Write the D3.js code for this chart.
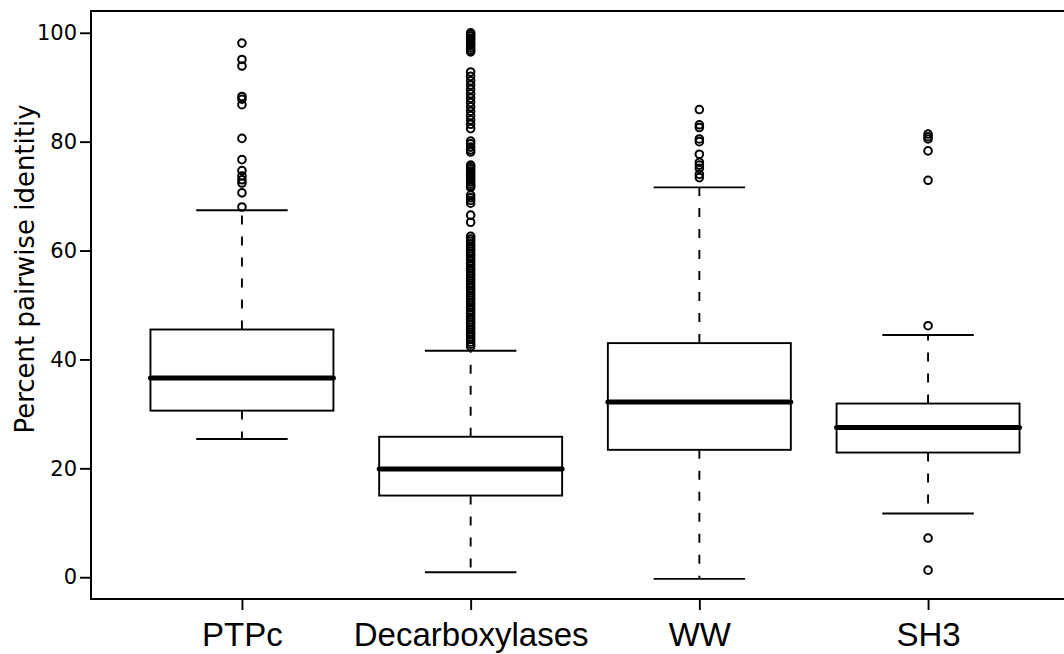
<!DOCTYPE html>
<html>
<head>
<meta charset="utf-8">
<script src="https://cdn.jsdelivr.net/npm/d3@7"></script>
<style>
  body { margin: 0; background: #fff; }
  svg { display: block; }
</style>
</head>
<body>
<svg id="chart"></svg>
<script>
// box statistics
const groups = ["PTPc", "Decarboxylases", "WW", "SH3"];
const lowerWhisker = [25.4, 0.9, -0.3, 11.7];
const lowerQuartile = [30.6, 15.0, 23.4, 22.9];
const medians = [36.6, 19.9, 32.2, 27.5];
const upperQuartile = [45.5, 25.8, 43.0, 31.9];
const upperWhisker = [67.4, 41.6, 71.6, 44.5];
const yTicks = [0, 20, 40, 60, 80, 100];

// outliers for each group
const outliersPTPc = [98.1, 95.1, 93.9, 88.3, 87.8, 86.8, 80.6, 76.7, 74.7, 73.7, 73.0, 72.4, 70.6, 68.0];
const outliersDecarb = [
  100.0, 99.7, 99.4, 99.0, 98.7, 98.3, 98.0, 97.6, 97.2, 96.8, 96.5,
  92.8, 92.0, 91.2, 90.4, 89.6, 88.8, 88.0, 87.2, 86.4, 85.6, 84.8, 84.0, 83.2, 82.4,
  80.1, 79.6, 79.0, 78.5, 78.1,
  75.7, 75.4, 75.0, 74.6, 74.2, 73.8, 73.4, 73.0, 72.6, 72.2, 71.8, 71.6,
  70.2, 69.7, 69.2, 68.7,
  66.5, 65.2,
  62.6, 62.1, 61.7, 61.2, 60.8, 60.3, 59.9, 59.4, 59.0, 58.5, 58.1, 57.6, 57.2,
  56.7, 56.3, 55.8, 55.4, 54.9, 54.5, 54.0, 53.6, 53.1, 52.7, 52.2, 51.8, 51.3,
  50.9, 50.4, 50.0, 49.5, 49.1, 48.6, 48.2, 47.7, 47.3, 46.8, 46.4, 45.9, 45.5,
  45.0, 44.6, 44.1, 43.7, 43.2, 42.8, 42.4
];
const outliersWW = [85.9, 83.1, 82.6, 80.5, 80.0, 77.7, 76.2, 75.7, 75.1, 74.0, 73.4];
const outliersSH3 = [81.4, 80.9, 80.5, 78.3, 72.9, 46.2, 7.2, 1.3];
const outliers = [outliersPTPc, outliersDecarb, outliersWW, outliersSH3];

const W = 1064, H = 654;
const frame = { left: 91, top: 11, right: 1079, bottom: 599 };

const svg = d3.select("#chart").attr("width", W).attr("height", H);

const x = d3.scaleLinear().domain([0.34, 4.66]).range([frame.left, frame.right]);
const y = d3.scaleLinear().domain([-4, 104]).range([frame.bottom, frame.top]);

const boxW = x(0.8) - x(0);
const stapleW = x(0.4) - x(0);
const lw = 1.9;

const data = groups.map((g, i) => ({
  name: g, pos: i + 1,
  lo: lowerWhisker[i], q1: lowerQuartile[i], med: medians[i],
  q3: upperQuartile[i], hi: upperWhisker[i], out: outliers[i]
}));

const boxes = svg.append("g").selectAll("g").data(data).join("g");

// dashed whiskers
boxes.append("line")
  .attr("x1", d => x(d.pos)).attr("x2", d => x(d.pos))
  .attr("y1", d => y(d.q3)).attr("y2", d => y(d.hi))
  .attr("stroke", "#000").attr("stroke-width", lw).attr("stroke-dasharray", "9,12");
boxes.append("line")
  .attr("x1", d => x(d.pos)).attr("x2", d => x(d.pos))
  .attr("y1", d => y(d.q1)).attr("y2", d => y(d.lo))
  .attr("stroke", "#000").attr("stroke-width", lw).attr("stroke-dasharray", "9,12");

// staples
["lo", "hi"].forEach(k => {
  boxes.append("line")
    .attr("x1", d => x(d.pos) - stapleW / 2).attr("x2", d => x(d.pos) + stapleW / 2)
    .attr("y1", d => y(d[k])).attr("y2", d => y(d[k]))
    .attr("stroke", "#000").attr("stroke-width", lw);
});

// boxes
boxes.append("rect")
  .attr("x", d => x(d.pos) - boxW / 2)
  .attr("y", d => y(d.q3))
  .attr("width", boxW)
  .attr("height", d => y(d.q1) - y(d.q3))
  .attr("fill", "#fff").attr("stroke", "#000").attr("stroke-width", lw);

// medians
boxes.append("line")
  .attr("x1", d => x(d.pos) - boxW / 2).attr("x2", d => x(d.pos) + boxW / 2)
  .attr("y1", d => y(d.med)).attr("y2", d => y(d.med))
  .attr("stroke", "#000").attr("stroke-width", 5).attr("stroke-linecap", "round");

// outliers
boxes.each(function(d) {
  d3.select(this).selectAll("circle").data(d.out).join("circle")
    .attr("cx", x(d.pos)).attr("cy", v => y(v)).attr("r", 3.8)
    .attr("fill", "none").attr("stroke", "#000").attr("stroke-width", 2);
});

// frame
svg.append("rect")
  .attr("x", frame.left).attr("y", frame.top)
  .attr("width", frame.right - frame.left).attr("height", frame.bottom - frame.top)
  .attr("fill", "none").attr("stroke", "#000").attr("stroke-width", 2);

// y axis
const yAxis = svg.append("g")
  .attr("transform", `translate(${frame.left},0)`)
  .call(d3.axisLeft(y).tickValues(yTicks).tickSize(11).tickPadding(3));
yAxis.select(".domain").remove();
yAxis.selectAll(".tick line").attr("stroke-width", lw);
yAxis.selectAll(".tick text")
  .attr("font-family", "DejaVu Sans").attr("font-size", 21).attr("fill", "#000");

// x axis
const xAxis = svg.append("g")
  .attr("transform", `translate(0,${frame.bottom})`)
  .call(d3.axisBottom(x).tickValues([1, 2, 3, 4]).tickFormat(i => groups[i - 1]).tickSize(11));
xAxis.select(".domain").remove();
xAxis.selectAll(".tick line").attr("stroke-width", lw);
xAxis.selectAll(".tick text")
  .attr("font-family", "Liberation Sans").attr("font-size", 33).attr("fill", "#000")
  .attr("y", 47).attr("dy", 0);

// y label
svg.append("text")
  .attr("transform", "translate(34,269) rotate(-90)")
  .attr("text-anchor", "middle")
  .attr("font-family", "DejaVu Sans").attr("font-size", 26)
  .text("Percent pairwise identitiy");
</script>
</body>
</html>
